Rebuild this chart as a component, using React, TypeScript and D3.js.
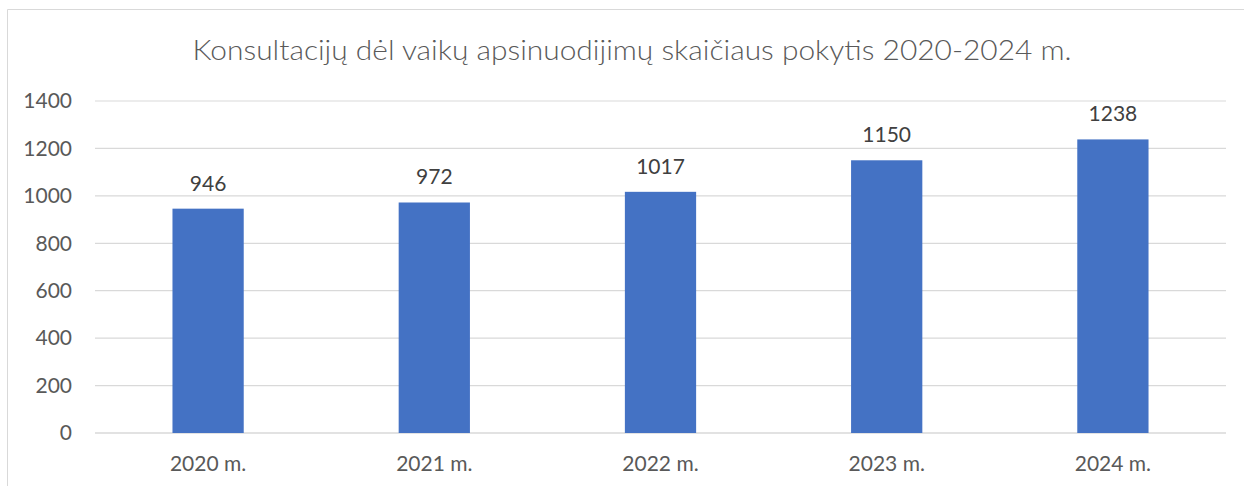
import React from "react";
import * as d3 from "d3";

const title = "Konsultacijų dėl vaikų apsinuodijimų skaičiaus pokytis 2020-2024 m.";
const categories = ["2020 m.", "2021 m.", "2022 m.", "2023 m.", "2024 m."];
const values = [946, 972, 1017, 1150, 1238];
const yTicks = [0, 200, 400, 600, 800, 1000, 1200, 1400];

const W = 1244;
const H = 486;
const plotLeft = 95;
const plotRight = 1226;
const plotTop = 101;
const plotBottom = 433;
const FONT = "Lato, 'Open Sans', sans-serif";

export default function App() {
  const x = d3.scaleBand<string>().domain(categories).range([plotLeft, plotRight]).padding(0);
  const y = d3.scaleLinear().domain([0, 1400]).range([plotBottom, plotTop]);
  const barW = x.bandwidth() * 0.315;

  return (
    <div style={{ position: "absolute", left: 0, top: 0 }}>
      <svg width={W} height={H} style={{ display: "block", background: "#fff" }}>
        <rect x={0} y={0} width={W} height={H} fill="#fff" />
        <line x1={7.5} y1={9.5} x2={7.5} y2={H} stroke="#d9d9d9" strokeWidth={1} />
        <line x1={7.5} y1={9.5} x2={W} y2={9.5} stroke="#d9d9d9" strokeWidth={1} />
        <text
          x={632}
          y={60}
          textAnchor="middle"
          fontFamily={FONT}
          fontWeight={300}
          fontSize={28}
          fill="#595959"
          textLength={879}
          lengthAdjust="spacingAndGlyphs"
        >
          {title}
        </text>
        {yTicks.map((t) => (
          <g key={t}>
            <line
              x1={plotLeft}
              x2={plotRight}
              y1={y(t)}
              y2={y(t)}
              stroke="#d9d9d9"
              strokeWidth={t === 0 ? 1.5 : 1.2}
            />
            <text
              x={72}
              y={y(t)}
              dy="0.35em"
              textAnchor="end"
              fontFamily={FONT}
              fontSize={21}
              fill="#595959"
            >
              {t}
            </text>
          </g>
        ))}
        {categories.map((c, i) => {
          const cx = (x(c) as number) + x.bandwidth() / 2;
          return (
            <g key={c}>
              <rect
                x={cx - barW / 2}
                y={y(values[i])}
                width={barW}
                height={y(0) - y(values[i])}
                fill="#4472c4"
              />
              <text
                x={cx}
                y={y(values[i]) - 18}
                textAnchor="middle"
                fontFamily={FONT}
                fontSize={21}
                fill="#404040"
              >
                {values[i]}
              </text>
              <text
                x={cx}
                y={471}
                textAnchor="middle"
                fontFamily={FONT}
                fontSize={21}
                fill="#595959"
              >
                {c}
              </text>
            </g>
          );
        })}
      </svg>
    </div>
  );
}
